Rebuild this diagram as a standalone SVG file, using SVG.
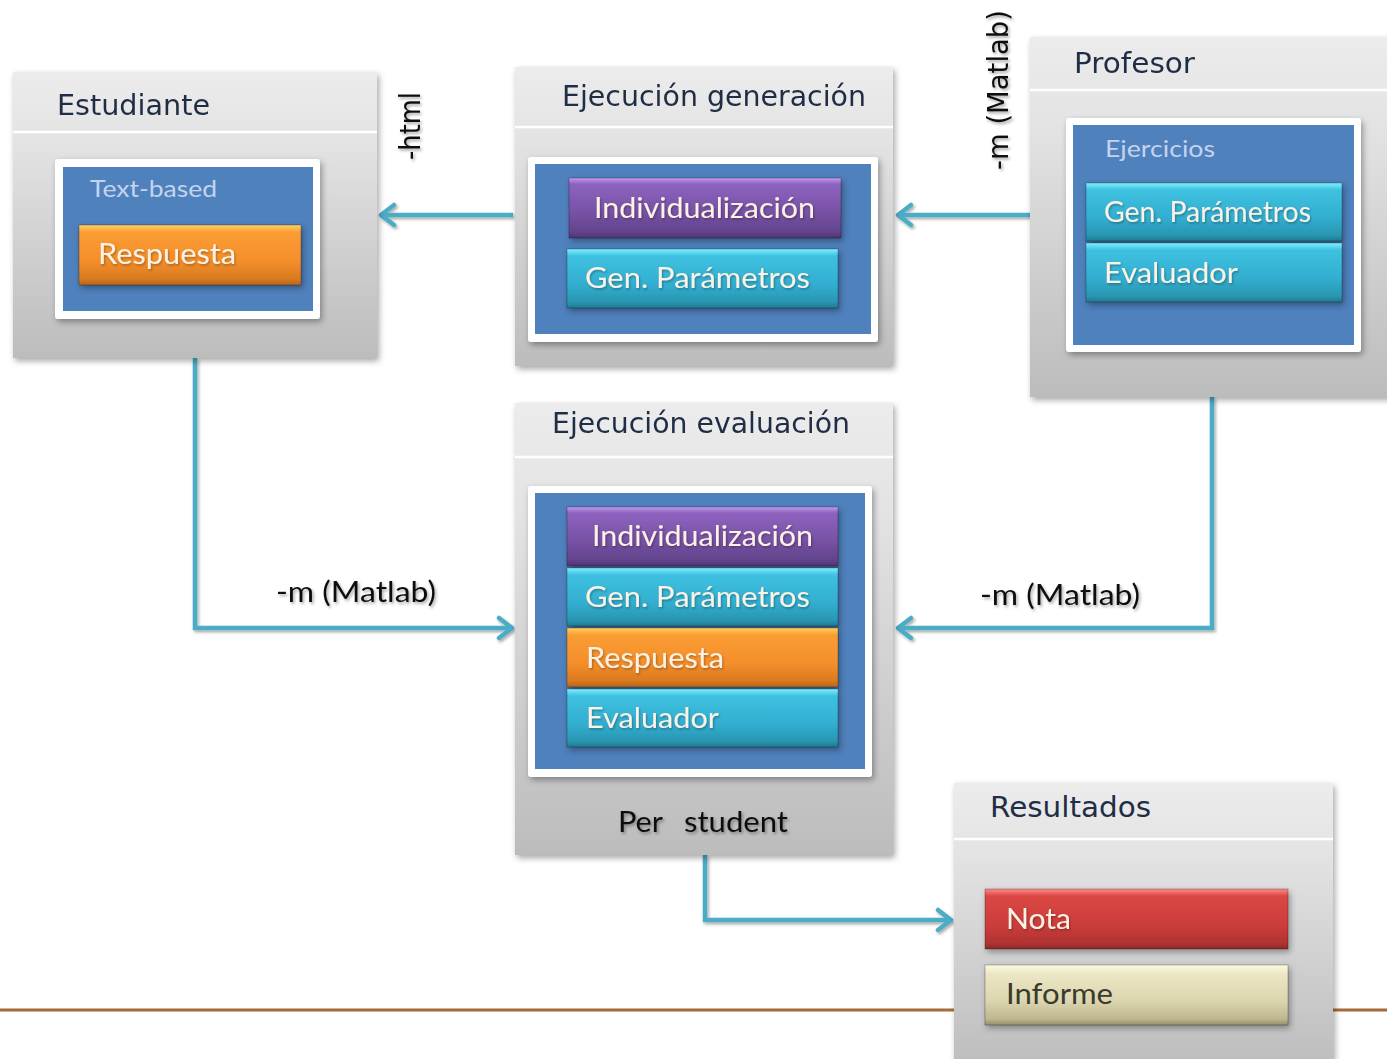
<svg xmlns="http://www.w3.org/2000/svg" width="1387" height="1059" viewBox="0 0 1387 1059">
<style>
.hdr{font-family:"DejaVu Sans","Liberation Sans",sans-serif;font-size:29px;fill:#1f2d45}
.btn{font-family:"Lato","Open Sans","Liberation Sans",sans-serif;font-size:29px;fill:#fbf1e4}
.sub{font-family:"Lato","Open Sans","Liberation Sans",sans-serif;font-size:24px;fill:#c3d3ee}
.lbl{font-family:"Lato","Open Sans","Liberation Sans",sans-serif;font-size:29px;fill:#111}
.rot{font-family:"DejaVu Sans","Liberation Sans",sans-serif;font-size:28px;fill:#111}
.div{stroke:#ffffff;stroke-width:2.5}
.con{fill:none;stroke:#4bacc6;stroke-width:4.5;marker-end:url(#arr)}
.b{stroke:#000;stroke-opacity:0.22;stroke-width:1.2}
</style>
<defs>
<linearGradient id="gPanel" x1="0" y1="0" x2="0" y2="1">
<stop offset="0" stop-color="#ececec"/><stop offset="0.25" stop-color="#e3e3e3"/><stop offset="1" stop-color="#bcbcbc"/>
</linearGradient>
<linearGradient id="gPur" x1="0" y1="0" x2="0" y2="1">
<stop offset="0" stop-color="#c59af0"/><stop offset="0.1" stop-color="#8e63c0"/><stop offset="0.6" stop-color="#7650a3"/><stop offset="0.9" stop-color="#62448c"/><stop offset="1" stop-color="#4e3572"/>
</linearGradient>
<linearGradient id="gCyan" x1="0" y1="0" x2="0" y2="1">
<stop offset="0" stop-color="#7ef0ff"/><stop offset="0.12" stop-color="#3fc1e0"/><stop offset="0.6" stop-color="#32aed0"/><stop offset="0.9" stop-color="#2996b2"/><stop offset="1" stop-color="#1f7a8f"/>
</linearGradient>
<linearGradient id="gOra" x1="0" y1="0" x2="0" y2="1">
<stop offset="0" stop-color="#ffd060"/><stop offset="0.12" stop-color="#fb9d33"/><stop offset="0.6" stop-color="#f48e2b"/><stop offset="0.9" stop-color="#d97a20"/><stop offset="1" stop-color="#b86518"/>
</linearGradient>
<linearGradient id="gRed" x1="0" y1="0" x2="0" y2="1">
<stop offset="0" stop-color="#ff8a86"/><stop offset="0.12" stop-color="#db4744"/><stop offset="0.6" stop-color="#cc3d3b"/><stop offset="0.9" stop-color="#b03331"/><stop offset="1" stop-color="#8e2827"/>
</linearGradient>
<linearGradient id="gKha" x1="0" y1="0" x2="0" y2="1">
<stop offset="0" stop-color="#fffbe0"/><stop offset="0.15" stop-color="#ebe6c4"/><stop offset="0.6" stop-color="#dcd6b0"/><stop offset="0.9" stop-color="#bdb68e"/><stop offset="1" stop-color="#958e6a"/>
</linearGradient>
<filter id="sh" x="-10%" y="-10%" width="130%" height="130%">
<feDropShadow dx="2" dy="3" stdDeviation="3" flood-color="#000" flood-opacity="0.35"/>
</filter>
<filter id="tsh" x="-10%" y="-30%" width="130%" height="160%">
<feDropShadow dx="1.5" dy="2" stdDeviation="1.5" flood-color="#000" flood-opacity="0.35"/>
</filter>
<filter id="bsh" x="-10%" y="-30%" width="130%" height="160%">
<feDropShadow dx="1" dy="1.5" stdDeviation="1" flood-color="#000" flood-opacity="0.3"/>
</filter>
<marker id="arr" viewBox="0 0 22 26" refX="19" refY="13" markerWidth="22" markerHeight="26" markerUnits="userSpaceOnUse" orient="auto">
<path d="M6,3 L19,13 L6,23" fill="none" stroke="#4bacc6" stroke-width="4.5" stroke-linecap="round" stroke-linejoin="round"/>
</marker>
</defs>
<rect width="1387" height="1059" fill="#ffffff"/>
<line x1="0" y1="1010" x2="1387" y2="1010" stroke="#a36b3b" stroke-width="3"/>

<g id="connectors" filter="url(#tsh)">
<path class="con" d="M513 215 H381"/>
<path class="con" d="M1030 215 H898"/>
<path class="con" d="M195 358 V628 H512"/>
<path class="con" d="M1212 397 V628 H898"/>
<path class="con" d="M705 855 V920 H951"/>
</g>
<g id="connector-labels" filter="url(#tsh)">
<text class="rot" transform="translate(420,126) rotate(-90)" text-anchor="middle" textLength="68" lengthAdjust="spacingAndGlyphs">-html</text>
<text class="rot" transform="translate(1008,90) rotate(-90)" text-anchor="middle" textLength="160" lengthAdjust="spacingAndGlyphs">-m (Matlab)</text>
<text class="lbl" x="276" y="602" textLength="160" lengthAdjust="spacingAndGlyphs">-m (Matlab)</text>
<text class="lbl" x="980" y="605" textLength="160" lengthAdjust="spacingAndGlyphs">-m (Matlab)</text>
</g>

<g id="estudiante">
<rect x="13" y="72" width="364" height="286" fill="url(#gPanel)" filter="url(#sh)"/>
<line class="div" x1="13" y1="132" x2="377" y2="132"/>
<text class="hdr" x="57" y="115" textLength="153" lengthAdjust="spacingAndGlyphs">Estudiante</text>
<rect x="55" y="159" width="265" height="160" rx="3" fill="#ffffff" filter="url(#sh)"/>
<rect x="63" y="167" width="250" height="144" fill="#4f81bd"/>
<text class="sub" x="90" y="197" textLength="127" lengthAdjust="spacingAndGlyphs">Text-based</text>
<rect class="b" x="79" y="225" width="222" height="60" fill="url(#gOra)" filter="url(#sh)"/>
<text class="btn" x="98" y="264" textLength="138" lengthAdjust="spacingAndGlyphs" filter="url(#bsh)">Respuesta</text>
</g>

<g id="ejecucion-generacion">
<rect x="515" y="67" width="378" height="299" fill="url(#gPanel)" filter="url(#sh)"/>
<line class="div" x1="515" y1="127" x2="893" y2="127"/>
<text class="hdr" x="562" y="106" textLength="304" lengthAdjust="spacingAndGlyphs">Ejecución generación</text>
<rect x="528" y="157" width="350" height="185" rx="3" fill="#ffffff" filter="url(#sh)"/>
<rect x="535" y="164" width="336" height="170" fill="#4f81bd"/>
<rect class="b" x="569" y="178" width="272" height="60" fill="url(#gPur)" filter="url(#sh)"/>
<text class="btn" x="594" y="218" textLength="221" lengthAdjust="spacingAndGlyphs" filter="url(#bsh)">Individualización</text>
<rect class="b" x="567" y="249" width="271" height="59" fill="url(#gCyan)" filter="url(#sh)"/>
<text class="btn" x="585" y="288" textLength="225" lengthAdjust="spacingAndGlyphs" filter="url(#bsh)">Gen. Parámetros</text>
</g>

<g id="profesor">
<rect x="1030" y="37" width="380" height="360" fill="url(#gPanel)" filter="url(#sh)"/>
<line class="div" x1="1030" y1="90" x2="1387" y2="90"/>
<text class="hdr" x="1074" y="73" textLength="121" lengthAdjust="spacingAndGlyphs">Profesor</text>
<rect x="1066" y="118" width="295" height="234" rx="3" fill="#ffffff" filter="url(#sh)"/>
<rect x="1073" y="125" width="281" height="220" fill="#4f81bd"/>
<text class="sub" x="1105" y="157" textLength="110" lengthAdjust="spacingAndGlyphs">Ejercicios</text>
<rect class="b" x="1086" y="183" width="256" height="58" fill="url(#gCyan)" filter="url(#sh)"/>
<text class="btn" x="1104" y="222" textLength="207" lengthAdjust="spacingAndGlyphs" filter="url(#bsh)">Gen. Parámetros</text>
<rect class="b" x="1086" y="243" width="256" height="59" fill="url(#gCyan)" filter="url(#sh)"/>
<text class="btn" x="1104" y="283" textLength="134" lengthAdjust="spacingAndGlyphs" filter="url(#bsh)">Evaluador</text>
</g>

<g id="ejecucion-evaluacion">
<rect x="515" y="403" width="378" height="452" fill="url(#gPanel)" filter="url(#sh)"/>
<line class="div" x1="515" y1="457" x2="893" y2="457"/>
<text class="hdr" x="552" y="433" textLength="298" lengthAdjust="spacingAndGlyphs">Ejecución evaluación</text>
<rect x="528" y="486" width="344" height="291" rx="3" fill="#ffffff" filter="url(#sh)"/>
<rect x="535" y="493" width="330" height="276" fill="#4f81bd"/>
<rect class="b" x="567" y="507" width="271" height="59" fill="url(#gPur)" filter="url(#sh)"/>
<text class="btn" x="592" y="546" textLength="221" lengthAdjust="spacingAndGlyphs" filter="url(#bsh)">Individualización</text>
<rect class="b" x="567" y="568" width="271" height="58" fill="url(#gCyan)" filter="url(#sh)"/>
<text class="btn" x="585" y="607" textLength="225" lengthAdjust="spacingAndGlyphs" filter="url(#bsh)">Gen. Parámetros</text>
<rect class="b" x="567" y="628" width="271" height="59" fill="url(#gOra)" filter="url(#sh)"/>
<text class="btn" x="586" y="668" textLength="138" lengthAdjust="spacingAndGlyphs" filter="url(#bsh)">Respuesta</text>
<rect class="b" x="567" y="689" width="271" height="58" fill="url(#gCyan)" filter="url(#sh)"/>
<text class="btn" x="586" y="728" textLength="133" lengthAdjust="spacingAndGlyphs" filter="url(#bsh)">Evaluador</text>
<g filter="url(#tsh)">
<text class="lbl" x="618" y="832" textLength="45" lengthAdjust="spacingAndGlyphs">Per</text>
<text class="lbl" x="684" y="832" textLength="104" lengthAdjust="spacingAndGlyphs">student</text>
</g>
</g>

<g id="resultados">
<rect x="954" y="783" width="379" height="290" fill="url(#gPanel)" filter="url(#sh)"/>
<line class="div" x1="954" y1="839" x2="1333" y2="839"/>
<text class="hdr" x="990" y="817" textLength="161" lengthAdjust="spacingAndGlyphs">Resultados</text>
<rect class="b" x="985" y="889" width="303" height="60" fill="url(#gRed)" filter="url(#sh)"/>
<text class="btn" x="1006" y="929" textLength="65" lengthAdjust="spacingAndGlyphs" filter="url(#bsh)">Nota</text>
<rect class="b" x="985" y="965" width="303" height="60" fill="url(#gKha)" filter="url(#sh)"/>
<text class="btn" x="1006" y="1004" textLength="107" lengthAdjust="spacingAndGlyphs" style="fill:#3a3a2e">Informe</text>
</g>
</svg>
